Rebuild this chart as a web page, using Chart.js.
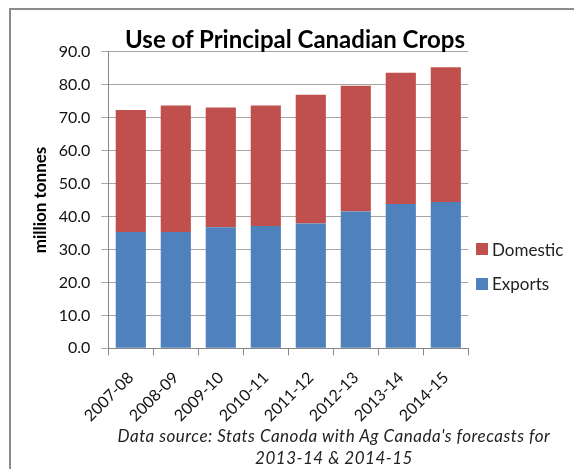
<!DOCTYPE html>
<html>
<head>
<meta charset="utf-8">
<script src="https://cdn.jsdelivr.net/npm/chart.js@4.4.1/dist/chart.umd.min.js"></script>
<style>
  body { margin: 0; background: #fff; font-family: Lato, sans-serif; }
  #wrap { position: relative; width: 574px; height: 469px; overflow: hidden; }
  #frame { position: absolute; left: 9px; top: 8px; width: 600px; height: 500px;
           border-left: 2px solid #8c8c8c; border-top: 2px solid #8c8c8c; }
  canvas { position: absolute; left: 0; top: 0; }
  #title { position: absolute; left: 295px; top: 27px; transform: translateX(-50%);
           font: bold 24px/24px Lato, sans-serif; color: #000; white-space: nowrap; }
  #legend { position: absolute; left: 476px; top: 240.5px; font: 17px/17px Lato, sans-serif; color: #222; }
  .item { display: flex; align-items: center; height: 17px; margin-bottom: 17.7px; }
  .box { width: 12px; height: 12px; margin-right: 4px; }
  #source { position: absolute; left: 334px; top: 425px; transform: translateX(-50%);
            font: italic 17px/22px Lato, sans-serif; letter-spacing: 0.5px; color: #222;
            text-align: center; white-space: nowrap; }
</style>
</head>
<body>
<div id="wrap">
  <div id="frame"></div>
  <canvas id="chart" width="574" height="469"></canvas>
  <div id="title">Use of Principal Canadian Crops</div>
  <div id="legend"></div>
  <div id="source">Data source: Stats Canoda with Ag Canada's forecasts for<br>2013-14 &amp; 2014-15</div>
</div>
<script>
// crop years
var years = ['2007-08', '2008-09', '2009-10', '2010-11', '2011-12', '2012-13', '2013-14', '2014-15'];
// million tonnes
var exports = [35.3, 35.3, 36.7, 37.1, 37.9, 41.5, 43.8, 44.4];
var domestic = [37.0, 38.4, 36.4, 36.6, 39.0, 38.2, 39.8, 40.9];
var yTicks = [0, 10, 20, 30, 40, 50, 60, 70, 80, 90];

var blue = '#4F81BD';
var red = '#C0504D';

Chart.defaults.font.family = 'Lato, sans-serif';
Chart.defaults.color = '#222';

var ctx = document.getElementById('chart').getContext('2d');
var myChart = new Chart(ctx, {
    type: 'bar',
    data: {
        labels: years,
        datasets: [
            { label: 'Exports', data: exports, backgroundColor: blue },
            { label: 'Domestic', data: domestic, backgroundColor: red }
        ]
    },
    options: {
        responsive: false,
        animation: false,
        devicePixelRatio: 1,
        layout: { padding: { top: 51.7, right: 105.7, bottom: 0, left: 0 } },
        datasets: { bar: { categoryPercentage: 1, barPercentage: 0.67 } },
        plugins: {
            legend: { display: false },
            tooltip: { enabled: false },
            title: { display: false }
        },
        scales: {
            x: {
                stacked: true,
                grid: { drawOnChartArea: false, tickLength: 7, color: '#868686', offset: true },
                border: { color: '#868686' },
                ticks: { minRotation: 45, maxRotation: 45, padding: 13, font: { size: 16 }, color: '#111' },
                afterFit: function (scale) { scale.height = 120.7; }
            },
            y: {
                stacked: true,
                min: yTicks[0],
                max: yTicks[yTicks.length - 1],
                grid: { color: '#a6a6a6', tickLength: 7 },
                border: { color: '#868686' },
                ticks: {
                    stepSize: 10,
                    padding: 11,
                    font: { size: 16 },
                    color: '#111',
                    callback: function (v) { return v.toFixed(1); }
                },
                title: {
                    display: true,
                    text: 'million tonnes',
                    font: { size: 17, weight: 'bold' },
                    color: '#000',
                    padding: { top: 30, bottom: 0 }
                },
                afterFit: function (scale) { scale.width = 108.3; }
            }
        }
    }
});

// legend, top entry is the top of the stack
var leg = document.getElementById('legend');
var ds = myChart.data.datasets.slice().reverse();
for (var i = 0; i < ds.length; i++) {
    leg.innerHTML += '<div class="item"><div class="box" style="background:' + ds[i].backgroundColor +
        '"></div>' + ds[i].label + '</div>';
}
</script>
</body>
</html>
